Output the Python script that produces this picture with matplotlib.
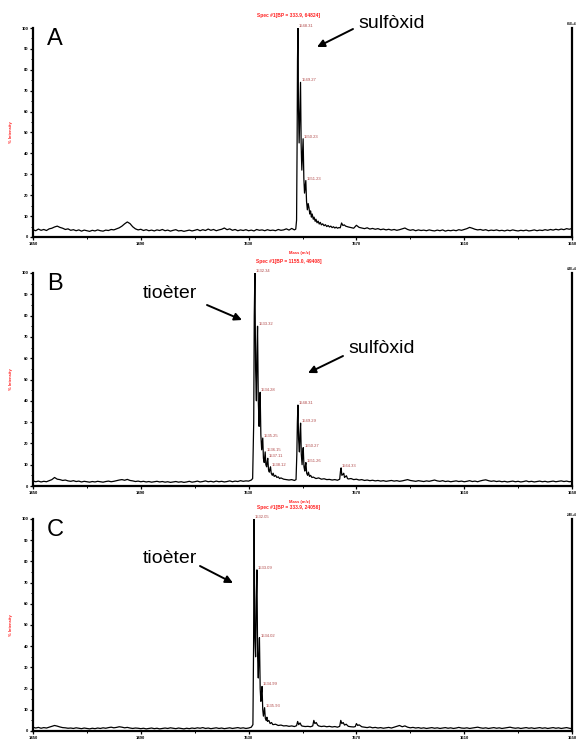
import numpy as np
import matplotlib
matplotlib.use("Agg")
import matplotlib.pyplot as plt

plt.rcParams['font.family'] = ['Liberation Sans', 'DejaVu Sans']

# ---- data (m/z, % intensity) ----
x_ticks = [1450, 1490, 1530, 1570, 1610, 1650]
x_minor = [1470, 1510, 1550, 1590, 1630]
y_ticks = [0, 10, 20, 30, 40, 50, 60, 70, 80, 90, 100]

# panel A
a_start_left = 1450
a_int_left = [3.5, 3.0, 3.8, 3.2, 3.6, 3.1, 3.9, 4.2, 4.8, 5.2,
              4.6, 4.2, 3.6, 3.9, 3.2, 3.5, 3.0, 3.4, 2.8, 3.3,
              3.0, 2.7, 3.2, 2.9, 3.4, 3.0, 2.8, 3.3, 3.1, 3.6,
              3.4, 3.9, 4.4, 5.2, 6.3, 7.2, 6.4, 4.9, 3.9, 3.4,
              3.7, 3.1, 3.5, 3.0, 3.3, 2.9, 3.4, 3.1, 3.6, 3.0,
              3.3, 2.8, 3.2, 3.5, 2.9, 3.1, 2.7, 3.0, 3.3, 2.9,
              3.2, 3.6, 3.0, 3.5, 3.1, 3.8, 3.2, 3.6, 3.0, 3.4,
              3.7, 4.3, 3.5, 3.9, 3.2, 3.6, 3.0, 3.4, 3.1, 3.5,
              3.0, 3.3, 2.9, 3.6, 3.2, 3.4, 3.0, 3.5, 3.1, 3.3,
              3.0, 3.6, 3.2, 3.4, 3.9, 3.3, 4.1]
a_mz_peak = [1547.0, 1547.5, 1547.8, 1548.0, 1548.15, 1548.31, 1548.5, 1548.75, 1549.0, 1549.27,
             1549.5, 1549.75, 1550.0, 1550.23, 1550.5, 1550.75, 1551.0, 1551.23, 1551.5, 1551.8,
             1552.1, 1552.4, 1552.7, 1553.0, 1553.3, 1553.6, 1554.0, 1554.3, 1554.7, 1555.0,
             1555.4, 1555.8, 1556.2, 1556.6, 1557.0, 1557.5, 1558.0, 1558.5, 1559.0, 1559.5,
             1560.0, 1560.5, 1561.0, 1561.5, 1562.0, 1562.5, 1563.0, 1563.5, 1564.0, 1564.5,
             1565.0, 1565.5]
a_int_peak = [3.4, 3.8, 8, 45, 85, 100, 62, 45, 60, 74,
              44, 32, 40, 47, 28, 21, 24, 27, 17, 13,
              16, 14, 11, 12.5, 9.5, 11, 8.5, 9.5, 7.5, 8.5,
              6.8, 7.6, 6.2, 7.0, 5.8, 6.3, 5.4, 5.9, 5.0, 5.5,
              4.8, 5.2, 4.5, 4.9, 4.3, 4.7, 4.2, 4.5, 4.4, 6.7,
              5.5, 5.8]
a_start_right = 1566
a_int_right = [5.2, 4.8, 4.5, 4.2, 5.6, 4.6, 4.3, 4.0, 4.4, 3.8,
               4.1, 3.7, 4.0, 3.5, 3.8, 3.4, 3.7, 3.3, 3.6, 3.2,
               3.5, 3.9, 4.3, 3.6, 3.2, 3.5, 3.0, 3.4, 3.1, 3.3,
               3.0, 3.4, 3.1, 2.9, 3.3, 3.0, 3.4, 2.8, 3.2, 3.0,
               3.3, 3.0, 3.5, 3.2, 3.6, 4.0, 4.6, 4.2, 3.7, 3.4,
               3.6, 3.2, 3.5, 3.0, 3.3, 3.1, 3.4, 3.0, 3.2, 2.9,
               3.3, 3.0, 3.4, 3.1, 2.9, 3.2, 3.0, 3.3, 2.9, 3.1,
               3.4, 3.0, 3.3, 3.1, 3.5, 3.2, 3.6, 3.3, 3.7, 3.4,
               3.8, 3.5, 4.0, 3.7, 4.1]
a_labels_mz = [1548.31, 1549.27, 1550.23, 1551.23]
a_labels_int = [100, 74, 47, 27]

# panel B
b_start_left = 1450
b_int_left = [2.4, 2.0, 2.3, 1.9, 2.2, 2.0, 2.5, 3.0, 4.0, 3.2,
              3.0, 2.6, 2.8, 2.4, 2.2, 2.5, 2.1, 2.3, 1.9, 2.2,
              2.0, 1.8, 2.1, 1.9, 2.2, 2.0, 1.8, 2.1, 2.3, 2.0,
              2.2, 2.5, 2.8, 3.0, 2.7, 3.1, 2.6, 2.4, 2.1, 2.3,
              2.0, 2.2, 1.9, 2.1, 1.8, 2.0, 2.2, 1.9, 2.1, 1.8,
              2.0, 1.7, 1.9, 2.1, 1.8, 2.0, 1.7, 1.9, 2.2, 1.8,
              2.0, 2.3, 1.9, 2.1, 2.4, 2.0, 2.2, 1.9, 2.3, 2.0,
              2.2, 1.9, 2.1, 2.4, 2.0, 2.3, 2.1, 2.5, 2.2, 2.4,
              2.3]
b_mz_peak = [1531.0, 1531.5, 1531.9, 1532.1, 1532.34, 1532.6, 1532.9, 1533.1, 1533.32, 1533.6,
             1533.9, 1534.05, 1534.28, 1534.55, 1534.85, 1535.05, 1535.25, 1535.5, 1535.8, 1536.0,
             1536.15, 1536.4, 1536.7, 1536.9, 1537.11, 1537.4, 1537.7, 1537.9, 1538.12, 1538.4,
             1538.8, 1539.1, 1539.5, 1540.0, 1540.5, 1541.0, 1541.5, 1542.0, 1543.0, 1544.0,
             1545.0, 1546.0, 1547.0, 1547.6, 1547.9, 1548.1, 1548.31, 1548.55, 1548.85, 1549.05,
             1549.29, 1549.55, 1549.85, 1550.05, 1550.27, 1550.55, 1550.85, 1551.05, 1551.26, 1551.55,
             1551.9, 1552.2, 1552.6, 1553.0, 1553.5, 1554.0, 1555.0, 1556.0, 1557.0, 1558.0,
             1559.0, 1560.0, 1561.0, 1562.0, 1563.0, 1563.8, 1564.1, 1564.33, 1564.6, 1565.0,
             1565.3, 1565.6, 1566.0, 1566.3, 1566.7, 1567.0, 1568.0]
b_int_peak = [2.8, 3.5, 30, 80, 100, 55, 40, 62, 75, 40,
              28, 36, 44, 24, 17, 20, 22.5, 13, 11, 14,
              16, 10, 9, 11.5, 13, 7.5, 6.5, 8, 9, 6,
              5, 6, 4.5, 5, 4, 4.3, 3.5, 3.8, 3.2, 3.0,
              2.8, 3.0, 2.6, 3.0, 15, 30, 38, 22, 16, 24,
              29.5, 15, 10, 15, 18, 9, 7, 9.5, 11, 6,
              5, 6.5, 4.5, 5, 4, 4.2, 3.5, 3.8, 3.2, 3.4,
              3.0, 3.1, 2.8, 3.0, 2.7, 3.2, 7, 8.5, 5, 5.5,
              6, 4, 4.5, 4.8, 3.5, 3.3, 3.5]
b_start_right = 1569
b_int_right = [3.0, 3.2, 2.8, 3.0, 2.6, 2.8, 2.5, 2.7, 2.4, 2.6,
               2.3, 2.5, 2.2, 2.4, 2.6, 2.3, 2.5, 2.2, 2.4, 2.7,
               3.0, 2.6, 2.4, 2.2, 2.5, 2.3, 2.1, 2.4, 2.2, 2.5,
               2.8, 2.4, 2.2, 2.5, 2.1, 2.3, 2.0, 2.2, 2.4, 2.1,
               2.3, 2.0, 2.2, 2.5, 2.1, 2.3, 2.0, 2.4, 2.7, 2.9,
               2.5, 2.2, 2.4, 2.1, 2.3, 2.0, 2.2, 1.9, 2.1, 2.3,
               2.0, 2.2, 1.9, 2.1, 2.4, 2.0, 2.2, 1.9, 2.1, 2.3,
               2.0, 2.2, 1.9, 2.1, 2.3, 2.0, 2.2, 2.4, 2.1, 2.3,
               2.0, 2.2]
b_labels_mz = [1532.34, 1533.32, 1534.28, 1535.25, 1536.15, 1537.11, 1538.12,
               1548.31, 1549.29, 1550.27, 1551.26, 1564.33]
b_labels_int = [100, 75, 44, 22.5, 16, 13, 9, 38, 29.5, 18, 11, 8.5]

# panel C
c_start_left = 1450
c_int_left = [1.8, 1.4, 1.7, 1.3, 1.6, 1.4, 1.8, 2.2, 2.6, 2.3,
              1.9, 1.6, 1.5, 1.3, 1.4, 1.2, 1.5, 1.3, 1.1, 1.4,
              1.2, 1.0, 1.3, 1.1, 1.4, 1.2, 1.5, 1.3, 1.6, 1.8,
              1.5, 1.7, 2.0, 1.8, 1.5, 1.7, 1.4, 1.2, 1.4, 1.3,
              1.1, 1.3, 1.0, 1.2, 1.4, 1.1, 1.3, 1.0, 1.2, 1.4,
              1.2, 1.5, 1.3, 1.1, 1.4, 1.2, 1.0, 1.3, 1.1, 1.4,
              1.2, 1.5, 1.3, 1.6, 1.2, 1.4, 1.1, 1.3, 1.5, 1.2,
              1.4, 1.1, 1.3, 1.5, 1.2, 1.4, 1.6, 1.3, 1.5, 1.2,
              1.4]
c_mz_peak = [1531.0, 1531.6, 1531.85, 1532.05, 1532.3, 1532.6, 1532.85, 1533.09, 1533.35, 1533.6,
             1533.8, 1534.02, 1534.3, 1534.55, 1534.75, 1534.99, 1535.25, 1535.5, 1535.7, 1535.93,
             1536.2, 1536.5, 1536.8, 1537.0, 1537.5, 1538.0, 1538.5, 1539.0, 1540.0, 1541.0,
             1542.0, 1543.0, 1544.0, 1545.0, 1546.0, 1547.0, 1547.8, 1548.2, 1548.6, 1549.1,
             1549.6, 1550.0, 1551.0, 1552.0, 1553.0, 1553.8, 1554.2, 1554.6, 1555.1, 1555.6,
             1556.0, 1557.0, 1558.0, 1559.0, 1560.0, 1561.0, 1562.0, 1563.0, 1563.8, 1564.2,
             1564.6, 1565.1, 1565.6, 1566.2, 1567.0, 1568.0, 1569.0, 1569.6, 1570.0, 1570.5,
             1571.0, 1572.0]
c_int_peak = [1.8, 3.0, 40, 100, 45, 35, 62, 76, 35, 25,
              36, 44, 20, 14, 18, 21, 10, 7, 9, 11,
              6, 5, 6.5, 4.5, 5, 3.5, 4, 3, 3.2, 2.6,
              2.8, 2.4, 2.5, 2.2, 2.4, 2.1, 2.5, 4.5, 3.0, 3.8,
              2.5, 2.3, 2.1, 2.2, 2.0, 2.4, 5.0, 3.5, 4.0, 2.8,
              2.4, 2.1, 2.3, 2.0, 2.2, 1.9, 2.1, 1.8, 2.2, 5.0,
              3.5, 4.0, 2.8, 3.2, 2.2, 2.0, 1.9, 2.1, 3.5, 2.6,
              2.9, 2.0]
c_start_right = 1573
c_int_right = [1.8, 1.6, 1.9, 1.5, 1.7, 1.4, 1.6, 1.3, 1.5, 1.7,
               1.4, 1.8, 2.2, 2.6, 2.0, 2.4, 1.8, 1.5, 1.7, 1.4,
               1.6, 1.3, 1.5, 1.2, 1.4, 1.6, 1.3, 1.5, 1.2, 1.4,
               1.6, 1.3, 1.5, 1.2, 1.4, 1.7, 1.4, 1.3, 1.5, 1.2,
               1.4, 1.6, 1.8, 1.5, 1.3, 1.5, 1.2, 1.4, 1.6, 1.3,
               1.5, 1.2, 1.4, 1.6, 1.8, 1.5, 1.3, 1.5, 1.2, 1.4,
               1.6, 1.3, 1.5, 1.2, 1.4, 1.6, 1.3, 1.5, 1.2, 1.4,
               1.6, 1.3, 1.5, 1.2, 1.4, 1.6, 1.3, 1.1]
c_labels_mz = [1532.05, 1533.09, 1534.02, 1534.99, 1535.93]
c_labels_int = [100, 76, 44, 21, 11]

titles = ['Spec #1[BP = 333.9, 64824]',
          'Spec #1[BP = 1155.0, 49408]',
          'Spec #1[BP = 333.9, 24056]']
max_counts = ['6.5E+4', '4.9E+4', '2.4E+4']
letters = ['A', 'B', 'C']


def join(start_l, int_l, mz_p, int_p, start_r, int_r):
    mz = np.concatenate([np.arange(start_l, start_l + len(int_l)), mz_p,
                         np.arange(start_r, start_r + len(int_r))])
    return mz, np.concatenate([int_l, int_p, int_r])


spectra = [
    join(a_start_left, a_int_left, a_mz_peak, a_int_peak, a_start_right, a_int_right),
    join(b_start_left, b_int_left, b_mz_peak, b_int_peak, b_start_right, b_int_right),
    join(c_start_left, c_int_left, c_mz_peak, c_int_peak, c_start_right, c_int_right),
]
peak_labels = [(a_labels_mz, a_labels_int), (b_labels_mz, b_labels_int),
               (c_labels_mz, c_labels_int)]

W, H = 581, 740
fig = plt.figure(figsize=(W / 100, H / 100), dpi=100)

# axes boxes in pixels: left, top, right, bottom
boxes = [(33, 28, 572, 237), (33, 273, 572, 486), (33, 519, 572, 731)]

red = '#ff2020'
lab_col = '#b04848'

for i, (l, t, r, b) in enumerate(boxes):
    ax = fig.add_axes([l / W, 1 - b / H, (r - l) / W, (b - t) / H])
    mz, inten = spectra[i]
    ax.plot(mz, inten, color='black', lw=0.9)
    ax.set_xlim(1450, 1650)
    ax.set_ylim(0, 100)
    ax.spines['top'].set_visible(False)
    for s in ['left', 'bottom', 'right']:
        ax.spines[s].set_linewidth(1.6)
    ax.set_xticks(x_ticks)
    ax.set_xticks(x_minor, minor=True)
    ax.set_yticks(y_ticks)
    ax.set_yticks([5, 15, 25, 35, 45, 55, 65, 75, 85, 95], minor=True)
    ax.tick_params(axis='both', which='major', length=2.5, width=0.9, labelsize=3, pad=1)
    ax.tick_params(axis='both', which='minor', length=1.5, width=0.7)
    for lab in ax.get_xticklabels() + ax.get_yticklabels():
        lab.set_fontweight('bold')
    ax.set_ylabel('% Intensity', color=red, fontsize=3, fontweight='bold')
    ax.yaxis.set_label_coords(-20 / (r - l), 0.5)
    ax.text(0.475, 1 + 12 / (b - t), titles[i], transform=ax.transAxes, ha='center',
            va='center', color=red, fontsize=3.5, fontweight='bold')
    # the last panel's mass label falls below the picture edge in the original
    if i < 2:
        ax.text(0.494, -16 / (b - t), 'Mass (m/z)', transform=ax.transAxes, ha='center',
                va='center', color=red, fontsize=3, fontweight='bold')
    ax.text(1.0, 1.01, max_counts[i], transform=ax.transAxes, ha='center', va='bottom',
            fontsize=2.2, fontweight='bold')
    ax.text(22 / (r - l), 1 - 11 / (b - t), letters[i], transform=ax.transAxes,
            ha='center', va='center', fontsize=17)
    for pm, pi in zip(*peak_labels[i]):
        ax.text(pm + 0.4, pi, f'{pm:.2f}', color=lab_col, fontsize=3,
                ha='left', va='bottom')


def fx(x):
    return x / W


def fy(y):
    return 1 - y / H


arrow = dict(arrowstyle='-|>', lw=1.4, color='black', mutation_scale=11,
             shrinkA=0, shrinkB=0)

# panel A note
fig.text(fx(358), fy(28), 'sulfòxid', fontsize=14, va='baseline', ha='left')
plt.annotate('', xy=(fx(317), fy(47)), xytext=(fx(353), fy(29)),
             xycoords='figure fraction', arrowprops=arrow)
# panel B notes
fig.text(fx(143), fy(298), 'tioèter', fontsize=14, va='baseline', ha='left')
plt.annotate('', xy=(fx(242), fy(320)), xytext=(fx(207), fy(305)),
             xycoords='figure fraction', arrowprops=arrow)
fig.text(fx(348), fy(353), 'sulfòxid', fontsize=14, va='baseline', ha='left')
plt.annotate('', xy=(fx(308), fy(373)), xytext=(fx(343), fy(356)),
             xycoords='figure fraction', arrowprops=arrow)
# panel C note
fig.text(fx(143), fy(563), 'tioèter', fontsize=14, va='baseline', ha='left')
plt.annotate('', xy=(fx(233), fy(583)), xytext=(fx(200), fy(566)),
             xycoords='figure fraction', arrowprops=arrow)

fig.savefig('out.png', dpi=100)
